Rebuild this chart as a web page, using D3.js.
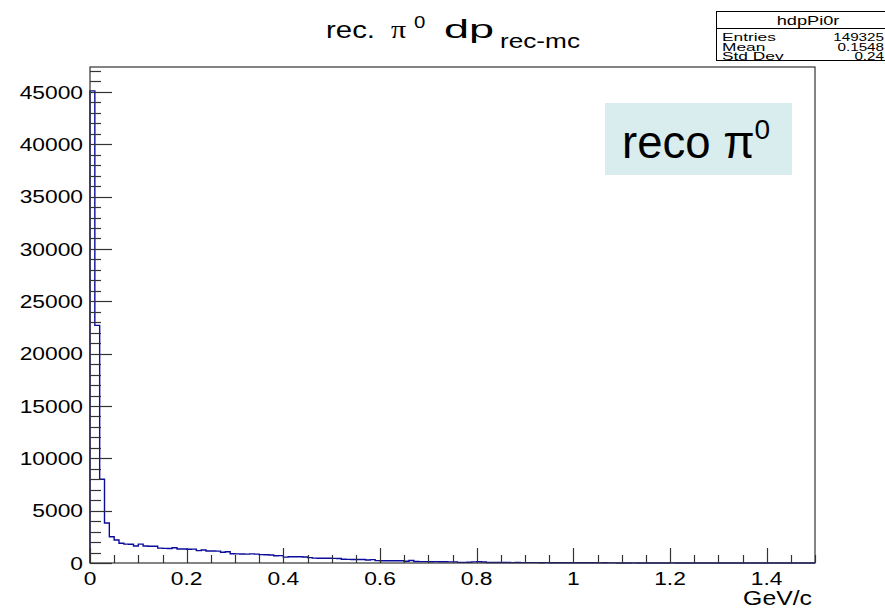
<!DOCTYPE html>
<html>
<head>
<meta charset="utf-8">
<script src="https://cdn.jsdelivr.net/npm/d3@7"></script>
<style>
  html, body { margin: 0; padding: 0; background: #fff; }
  svg { display: block; font-family: "Liberation Sans", Arial, sans-serif; }
</style>
</head>
<body>
<div id="chart"></div>
<script>
(function () {
  const width = 885;
  const height = 608;

  // histogram hdpPi0r, 150 bins over [0, 1.5] GeV/c
  const histRange = [0, 1.5];
  const binCounts = [
    45100, 22700, 8000, 3820, 2510, 2200, 1880, 1800, 1790, 1620,
    1800, 1620, 1600, 1600, 1420, 1400, 1390, 1460, 1340, 1340,
    1320, 1330, 1180, 1240, 1150, 1140, 1130, 1020, 1080, 880,
    870, 860, 850, 870, 850, 800, 790, 760, 690, 700,
    560, 600, 600, 590, 580, 510, 470, 460, 450, 450,
    440, 430, 360, 350, 340, 340, 330, 280, 320, 230,
    220, 220, 210, 220, 210, 170, 240, 140, 130, 130,
    120, 130, 120, 120, 110, 110, 60, 60, 70, 110,
    120, 100, 50, 50, 45, 50, 45, 40, 45, 40,
    40, 35, 35, 30, 35, 30, 30, 25, 30, 25,
    25, 20, 25, 20, 20, 15, 20, 15, 15, 0,
    0, 0, 15, 0, 0, 0, 0, 0, 0, 0,
    12, 0, 0, 0, 0, 0, 0, 0, 0, 0,
    0, 0, 0, 0, 0, 0, 0, 0, 0, 0,
    0, 0, 0, 0, 0, 0, 0, 0, 0, 0
  ];
  const yMax = 47380;
  const yTickValues = [0, 5000, 10000, 15000, 20000, 25000, 30000, 35000, 40000, 45000];
  const xTickValues = [0, 0.2, 0.4, 0.6, 0.8, 1, 1.2, 1.4];
  const xTickLabels = ["0", "0.2", "0.4", "0.6", "0.8", "1", "1.2", "1.4"];
  const statsLabels = ["Entries", "Mean", "Std Dev"];
  const statsValues = ["149325", "0.1548", "0.24"];

  const frame = { left: 90, right: 815, top: 67, bottom: 563 };
  const stretch = 1.2;
  const lineColor = "#0c0c9c";
  const axisColor = "#333";

  const svg = d3.select("#chart").append("svg")
    .attr("width", width)
    .attr("height", height)
    .attr("viewBox", `0 0 ${width} ${height}`);

  const x = d3.scaleLinear().domain(histRange).range([frame.left, frame.right]);
  const y = d3.scaleLinear().domain([0, yMax]).range([frame.bottom, frame.top]);

  const binWidth = (histRange[1] - histRange[0]) / binCounts.length;
  const bins = binCounts.map((count, i) => ({
    x0: histRange[0] + i * binWidth,
    x1: histRange[0] + (i + 1) * binWidth,
    count
  }));

  // the reference text is drawn a little wide, so stretch it horizontally
  function label(parent, px, py, text, opts) {
    const o = Object.assign({ size: 19, anchor: "middle", sx: stretch }, opts || {});
    const t = parent.append("text")
      .attr("transform", `translate(${px},${py}) scale(${o.sx},1)`)
      .attr("text-anchor", o.anchor)
      .attr("dominant-baseline", o.baseline || "auto")
      .attr("font-size", o.size)
      .attr("fill", "#000")
      .text(text);
    if (o.family) t.attr("font-family", o.family);
    return t;
  }

  // histogram outline
  const stepPoints = [[bins[0].x0, 0]];
  bins.forEach((b) => {
    stepPoints.push([b.x0, b.count]);
    stepPoints.push([b.x1, b.count]);
  });
  stepPoints.push([bins[bins.length - 1].x1, 0]);

  svg.append("path")
    .attr("d", d3.line().x((d) => x(d[0])).y((d) => y(d[1]))(stepPoints))
    .attr("fill", "none")
    .attr("stroke", lineColor)
    .attr("stroke-width", 1.4);

  // frame
  svg.append("rect")
    .attr("x", frame.left)
    .attr("y", frame.top)
    .attr("width", frame.right - frame.left)
    .attr("height", frame.bottom - frame.top)
    .attr("fill", "none")
    .attr("stroke", axisColor)
    .attr("stroke-width", 1.2);

  // y axis ticks (inside, pointing right)
  const yMinor = d3.range(0, yMax, 1000);
  svg.append("g").selectAll("line")
    .data(yMinor)
    .join("line")
    .attr("x1", frame.left)
    .attr("x2", (d) => frame.left + (d % 5000 === 0 ? 22 : 11))
    .attr("y1", (d) => Math.round(y(d)) + 0.5)
    .attr("y2", (d) => Math.round(y(d)) + 0.5)
    .attr("stroke", axisColor)
    .attr("stroke-width", 1.2);

  yTickValues.forEach((v) => {
    label(svg, frame.left - 7, y(v), String(v), { anchor: "end", baseline: "central" });
  });

  // x axis ticks (inside, pointing up)
  const xMinor = d3.range(0, 31).map((i) => i * 0.05);
  svg.append("g").selectAll("line")
    .data(xMinor)
    .join("line")
    .attr("x1", (d) => Math.round(x(d)) + 0.5)
    .attr("x2", (d) => Math.round(x(d)) + 0.5)
    .attr("y1", frame.bottom)
    .attr("y2", (d, i) => frame.bottom - (i % 4 === 0 ? 15 : 8))
    .attr("stroke", axisColor)
    .attr("stroke-width", 1.2);

  xTickValues.forEach((v, i) => {
    label(svg, x(v), 578, xTickLabels[i], { baseline: "central" });
  });

  label(svg, 812, 598, "GeV/c", { anchor: "end", baseline: "central", size: 20, sx: 1.24 });

  // title: rec. pi^0 dp_{rec-mc}
  const titleG = svg.append("g");
  label(titleG, 326, 38, "rec.", { anchor: "start", size: 24.5 });
  label(titleG, 391, 38, "\u03c0", { anchor: "start", size: 25, family: "'Liberation Serif', serif" });
  label(titleG, 414, 28, "0", { anchor: "start", size: 17 });
  titleG.append("text")
    .attr("x", 444)
    .attr("y", 38)
    .attr("font-size", 26)
    .attr("textLength", 50)
    .attr("lengthAdjust", "spacingAndGlyphs")
    .text("dp");
  titleG.append("text")
    .attr("x", 500)
    .attr("y", 48)
    .attr("font-size", 20)
    .attr("textLength", 80)
    .attr("lengthAdjust", "spacingAndGlyphs")
    .text("rec-mc");

  // stats box
  const stats = svg.append("g");
  stats.append("rect")
    .attr("x", 716.5)
    .attr("y", 11.5)
    .attr("width", 190)
    .attr("height", 49)
    .attr("fill", "#fff")
    .attr("stroke", "#000")
    .attr("stroke-width", 1);
  stats.append("line")
    .attr("x1", 716.5).attr("x2", 906)
    .attr("y1", 28.5).attr("y2", 28.5)
    .attr("stroke", "#000")
    .attr("stroke-width", 1);
  label(stats, 808, 20.5, "hdpPi0r", { baseline: "central", size: 13, sx: 1.4 });
  statsLabels.forEach((name, i) => {
    label(stats, 722, 37.5 + i * 9.5, name, { anchor: "start", baseline: "central", size: 10.5, sx: 1.65 });
    label(stats, 884, 37.5 + i * 9.5, statsValues[i], { anchor: "end", baseline: "central", size: 10.5, sx: 1.45 });
  });

  // overlay label
  svg.append("rect")
    .attr("x", 605)
    .attr("y", 103)
    .attr("width", 187)
    .attr("height", 72)
    .attr("fill", "#d9ecee");
  const reco = svg.append("text")
    .attr("x", 622)
    .attr("y", 158)
    .attr("font-size", 45.5)
    .attr("fill", "#000");
  reco.append("tspan").text("reco \u03c0");
  reco.append("tspan").attr("font-size", 28).attr("dy", -19).text("0");
}());
</script>
</body>
</html>
